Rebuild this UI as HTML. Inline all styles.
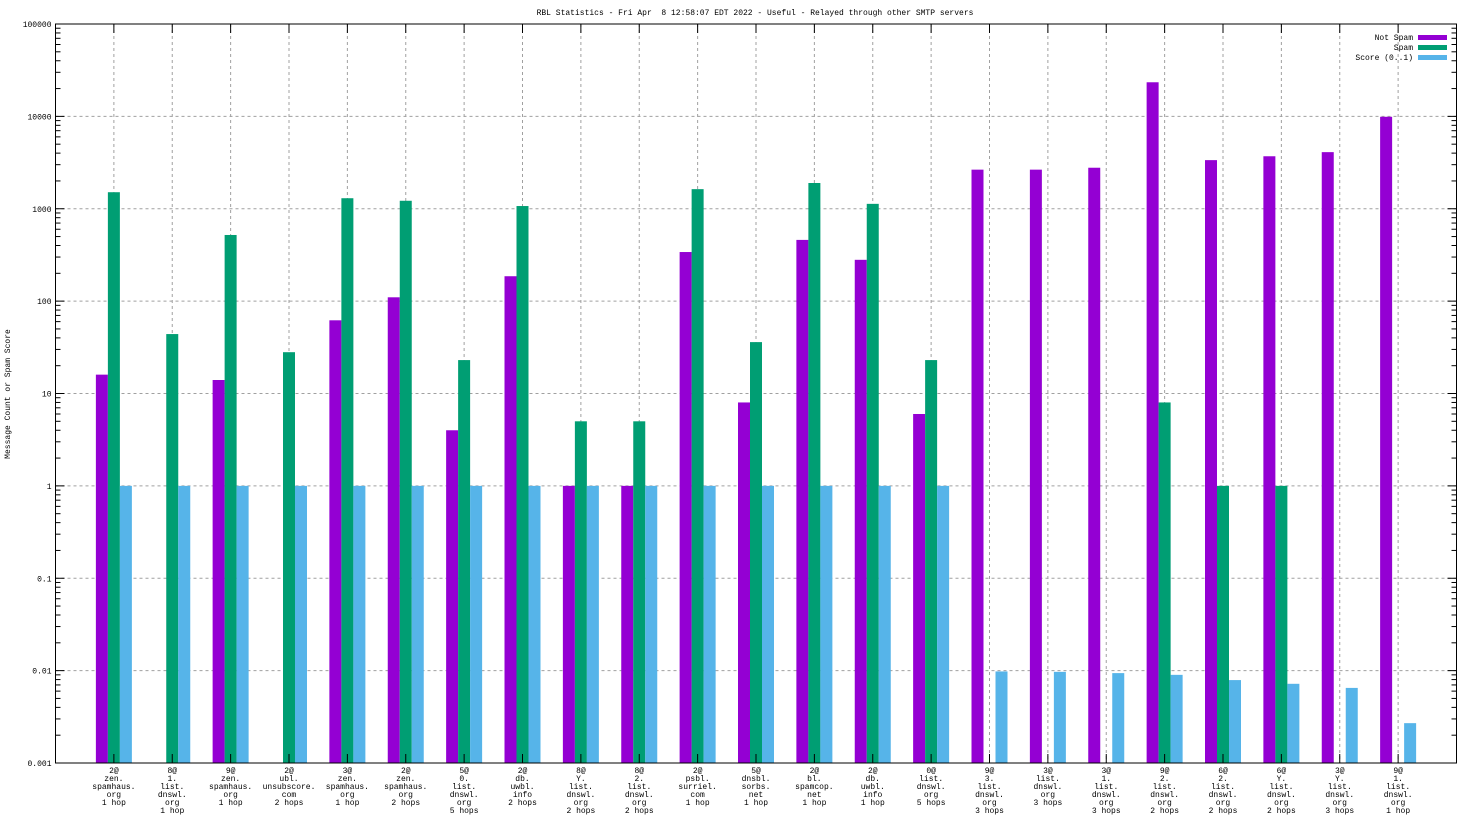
<!DOCTYPE html>
<html><head><meta charset="utf-8"><style>
html,body{margin:0;padding:0;background:#fff;}
svg{display:block;font-family:"Liberation Mono","DejaVu Sans Mono",monospace;}
</style></head><body>
<svg id="chart" width="1472" height="828" viewBox="0 0 1472 828" xmlns="http://www.w3.org/2000/svg">
<text x="755" y="15" font-size="8" text-anchor="middle" style="white-space:pre" xml:space="preserve">RBL Statistics - Fri Apr  8 12:58:07 EDT 2022 - Useful - Relayed through other SMTP servers</text>
<text transform="translate(10,394) rotate(-90)" font-size="8" text-anchor="middle">Message Count or Spam Score</text>
<g id="grid"></g><g id="bars"></g><g id="axes"></g><g id="labels"></g>
<g font-size="8">
<text x="1413" y="40" text-anchor="end">Not Spam</text>
<rect x="1418" y="35" width="29" height="5" fill="#9400d3"/>
<text x="1413" y="50" text-anchor="end">Spam</text>
<rect x="1418" y="45" width="29" height="5" fill="#009e73"/>
<text x="1413" y="60" text-anchor="end">Score (0..1)</text>
<rect x="1418" y="55" width="29" height="5" fill="#56b4e9"/>
</g>
</svg>
<script>
const categories=[
["2@","zen.","spamhaus.","org","1 hop"],["8@","1.","list.","dnswl.","org","1 hop"],["9@","zen.","spamhaus.","org","1 hop"],["2@","ubl.","unsubscore.","com","2 hops"],["3@","zen.","spamhaus.","org","1 hop"],["2@","zen.","spamhaus.","org","2 hops"],["5@","0.","list.","dnswl.","org","5 hops"],["2@","db.","uwbl.","info","2 hops"],["8@","Y.","list.","dnswl.","org","2 hops"],["8@","2.","list.","dnswl.","org","2 hops"],["2@","psbl.","surriel.","com","1 hop"],["5@","dnsbl.","sorbs.","net","1 hop"],["2@","bl.","spamcop.","net","1 hop"],["2@","db.","uwbl.","info","1 hop"],["0@","list.","dnswl.","org","5 hops"],["9@","3.","list.","dnswl.","org","3 hops"],["3@","list.","dnswl.","org","3 hops"],["3@","1.","list.","dnswl.","org","3 hops"],["9@","2.","list.","dnswl.","org","2 hops"],["6@","2.","list.","dnswl.","org","2 hops"],["6@","Y.","list.","dnswl.","org","2 hops"],["3@","Y.","list.","dnswl.","org","3 hops"],["9@","1.","list.","dnswl.","org","1 hop"]];
const notSpam=[16,0,14,0,62,110,4,186,1,1,340,8,460,280,6,2650,2650,2780,23400,3360,3700,4100,9900];
const spam=[1510,44,520,28,1300,1220,23,1070,5,5,1630,36,1900,1130,23,0,0,0,8,1,1,0,0];
const score=[1,1,1,1,1,1,1,1,1,1,1,1,1,1,1,0.0098,0.0097,0.0094,0.009,0.0079,0.0072,0.0065,0.0027];
const yTicks=["0.001","0.01","0.1","1","10","100","1000","10000","100000"];
const L=55.5,R=1456.5,T=24,B=763,NS="http://www.w3.org/2000/svg";
const nCat=categories.length;
function y(v){return B-(Math.log10(v)+3)/8*(B-T);}
function x(i){return L+(R-L)/(nCat+1)*(i+1);}
function mk(tag,a,p){const e=document.createElementNS(NS,tag);for(const k in a)e.setAttribute(k,a[k]);p.appendChild(e);return e;}
const grid=document.getElementById('grid'),bars=document.getElementById('bars'),axes=document.getElementById('axes'),labels=document.getElementById('labels');
yTicks.forEach((t,k)=>{const v=parseFloat(t),yy=y(v);
 if(k>0&&k<yTicks.length-1){const g=mk('line',{x1:L,x2:R,y1:yy,y2:yy,stroke:'#a0a0a0','stroke-dasharray':'3,3'},grid);
 
 }
 const tl=mk('text',{x:L-4,y:yy+3,'font-size':'8','text-anchor':'end'},labels);tl.textContent=t;
 
 
 mk('line',{x1:L,x2:L+9,y1:yy,y2:yy,stroke:'#000'},axes);mk('line',{x1:R,x2:R-9,y1:yy,y2:yy,stroke:'#000'},axes);
 if(k<yTicks.length-1){for(let m=2;m<10;m++){const ym=y(v*m);mk('line',{x1:L,x2:L+5,y1:ym,y2:ym,stroke:'#000'},axes);mk('line',{x1:R,x2:R-5,y1:ym,y2:ym,stroke:'#000'},axes);}}
});
categories.forEach((c,i)=>{const cx=x(i);
 const g=mk('line',{x1:cx,x2:cx,y1:T,y2:B,stroke:'#a0a0a0','stroke-dasharray':'3,3'},grid);
 
 
 mk('line',{x1:cx,x2:cx,y1:B,y2:B-9,stroke:'#000'},axes);mk('line',{x1:cx,x2:cx,y1:T,y2:T+9,stroke:'#000'},axes);
 const t=mk('text',{x:cx,'font-size':'8','text-anchor':'middle'},labels);
 
 
 c.forEach((ln,j)=>{const s=mk('tspan',{x:cx,y:B+10+j*8},t);s.textContent=ln;});
 [[notSpam,-18,'#9400d3','bar-not-spam'],[spam,-6,'#009e73','bar-spam'],[score,6,'#56b4e9','bar-score']].forEach(([arr,off,col,nm])=>{
  const v=arr[i];if(!(v>0))return;const top=y(v);
  const r=mk('rect',{x:cx+off,y:top,width:12,height:B-top,fill:col},bars);
  
  
 });
});
const fr=mk('rect',{x:L,y:T,width:R-L,height:B-T,fill:'none',stroke:'#000','stroke-width':'1'},axes);


</script>
</body></html>
